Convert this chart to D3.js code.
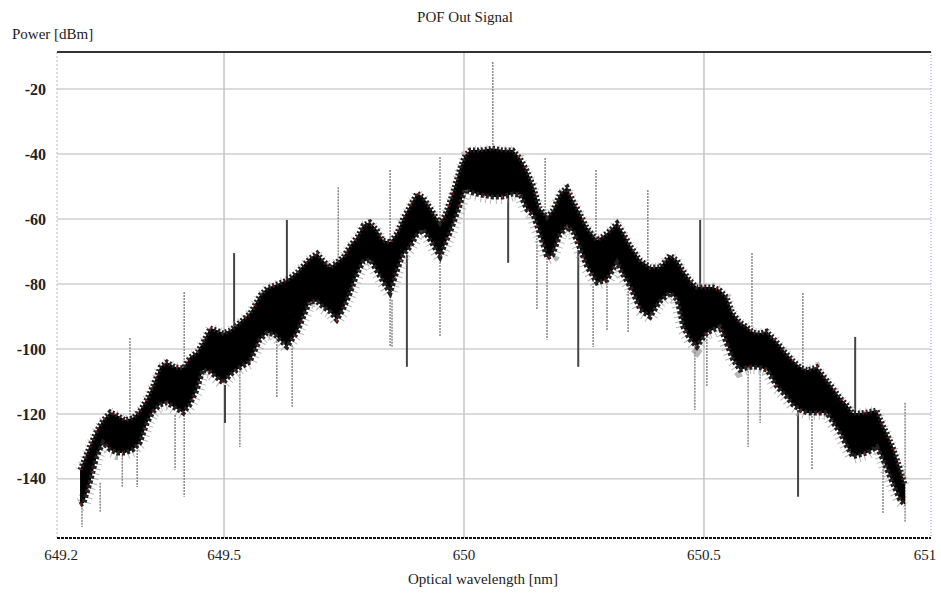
<!DOCTYPE html>
<html>
<head>
<meta charset="utf-8">
<script src="https://cdn.jsdelivr.net/npm/d3@7"></script>
<style>
  body { margin: 0; background: #fff; }
  svg text { font-family: "Liberation Serif", "Times New Roman", Times, "Tinos", "Noto Serif", "DejaVu Serif", serif; fill: #222; }
</style>
</head>
<body>
<svg id="chart" width="941" height="593"></svg>
<script>
// band envelope (nm, dBm)
let wl = [649.200, 649.208, 649.221, 649.235, 649.248, 649.263, 649.277, 649.294, 649.310, 649.325,
  649.340, 649.352, 649.367, 649.381, 649.398, 649.415, 649.429, 649.444, 649.456, 649.471,
  649.485, 649.498, 649.513, 649.533, 649.554, 649.575, 649.590, 649.606, 649.631, 649.652,
  649.679, 649.694, 649.706, 649.721, 649.735, 649.748, 649.763, 649.777, 649.790, 649.804,
  649.819, 649.831, 649.846, 649.860, 649.873, 649.888, 649.902, 649.915, 649.929, 649.950,
  649.960, 649.971, 649.981, 649.992, 650.002, 650.013, 650.033, 650.060, 650.081, 650.102,
  650.117, 650.131, 650.144, 650.158, 650.173, 650.185, 650.200, 650.215, 650.227, 650.242,
  650.256, 650.277, 650.298, 650.319, 650.331, 650.346, 650.367, 650.388, 650.408, 650.429,
  650.444, 650.456, 650.471, 650.485, 650.506, 650.519, 650.533, 650.548, 650.560, 650.575,
  650.590, 650.602, 650.617, 650.631, 650.652, 650.669, 650.685, 650.700, 650.715, 650.735,
  650.756, 650.769, 650.783, 650.798, 650.810, 650.825, 650.840, 650.860, 650.873, 650.881,
  650.894, 650.908, 650.919];
let upper = [-137.2, -134.2, -129.5, -124.9, -121.8, -119.4, -120.3, -121.8, -121.2, -118.8,
  -115.1, -111.1, -105.5, -104.0, -105.5, -105.8, -102.5, -100.9, -97.8, -93.5,
  -94.2, -95.1, -94.2, -91.7, -88.9, -83.4, -81.2, -80.3, -78.8, -76.3,
  -72.0, -70.5, -72.6, -74.8, -73.2, -71.7, -68.0, -65.5, -61.8, -60.9,
  -63.4, -66.5, -67.1, -64.3, -59.7, -55.7, -52.0, -53.2, -56.3, -61.2,
  -58.8, -54.2, -49.5, -44.0, -40.3, -38.8, -38.8, -38.2, -38.8, -38.8,
  -41.2, -44.9, -49.5, -56.6, -59.4, -57.2, -52.0, -50.2, -54.2, -58.2,
  -62.5, -66.5, -64.3, -61.2, -64.0, -68.0, -72.6, -74.8, -74.8, -71.1,
  -72.6, -75.7, -78.8, -80.9, -80.9, -80.9, -81.8, -84.0, -88.9, -91.7,
  -93.2, -94.8, -95.1, -94.5, -97.8, -100.9, -103.4, -105.5, -106.5, -105.5,
  -109.5, -112.0, -114.8, -117.2, -119.7, -119.7, -119.4, -118.8, -123.4, -125.8,
  -130.2, -136.3, -141.8];
let lower = [-148.0, -147.4, -141.2, -133.2, -128.9, -131.1, -132.0, -132.0, -131.1, -128.9,
  -122.8, -119.4, -117.2, -116.6, -118.2, -119.7, -117.2, -112.6, -106.5, -107.1,
  -108.9, -110.5, -108.0, -105.8, -104.0, -97.2, -95.1, -95.7, -99.4, -95.1,
  -85.5, -85.5, -87.1, -88.6, -91.1, -88.0, -82.8, -77.2, -73.2, -72.6,
  -76.3, -79.4, -82.8, -76.3, -71.1, -68.6, -64.9, -63.4, -66.5, -71.7,
  -68.0, -64.3, -60.3, -55.7, -51.1, -51.7, -52.6, -53.2, -53.2, -52.3,
  -52.6, -57.2, -58.8, -64.9, -72.0, -71.1, -64.9, -62.5, -64.0, -69.5,
  -74.8, -79.7, -78.8, -73.5, -77.2, -80.9, -88.0, -90.2, -85.5, -82.8,
  -84.9, -93.2, -97.2, -99.4, -95.1, -94.2, -93.2, -98.8, -103.4, -106.5,
  -105.8, -105.5, -105.8, -106.5, -111.7, -114.2, -117.2, -118.8, -119.7, -119.7,
  -119.7, -122.8, -125.8, -130.2, -133.2, -132.6, -132.0, -130.2, -134.2, -137.2,
  -141.8, -146.5, -148.0];

// isolated spikes
let spikeWl = [649.204, 649.242, 649.288, 649.304, 649.319, 649.398, 649.417, 649.502, 649.521, 649.533,
  649.610, 649.631, 649.642, 649.738, 649.846, 649.850, 649.881, 649.950, 650.060, 650.092,
  650.152, 650.169, 650.173, 650.238, 650.269, 650.275, 650.298, 650.342, 650.383, 650.481,
  650.492, 650.506, 650.592, 650.600, 650.617, 650.696, 650.706, 650.725, 650.815, 650.873,
  650.919];
let spikeTop = [-148.0, -141.2, -132.6, -96.6, -131.1, -120.3, -82.5, -111.1, -70.5, -105.8,
  -95.7, -60.3, -98.8, -50.2, -44.9, -84.9, -71.1, -40.9, -11.7, -52.6,
  -64.9, -41.2, -71.1, -69.5, -78.8, -44.9, -78.8, -80.3, -51.1, -97.2,
  -60.3, -95.1, -105.8, -70.5, -105.8, -118.8, -82.8, -119.7, -96.3, -134.2,
  -116.6];
let spikeBottom = [-154.8, -150.2, -142.5, -121.8, -142.5, -137.2, -145.5, -122.8, -93.2, -130.2,
  -114.8, -81.8, -117.8, -73.2, -99.4, -99.4, -105.5, -96.3, -38.8, -73.5,
  -88.0, -58.8, -97.2, -105.5, -99.4, -66.5, -94.2, -95.1, -74.8, -118.8,
  -80.9, -111.7, -130.2, -95.1, -122.8, -145.5, -105.5, -137.2, -119.7, -150.5,
  -153.5];
let spikeDark = [0, 0, 0, 0, 0, 0, 0, 1, 1, 0,
  0, 1, 0, 0, 0, 0, 1, 0, 0, 1,
  0, 0, 0, 1, 0, 0, 0, 0, 0, 0,
  1, 0, 0, 0, 0, 1, 0, 0, 1, 0,
  0];

let xDomain = [649.152, 650.973];
let yDomain = [-158.2, -8.6];
let xTicks = [649.152, 649.5, 650, 650.5, 650.973];
let xTickLabels = ['649.2', '649.5', '650', '650.5', '651'];
let yTicks = [-20, -40, -60, -80, -100, -120, -140];

let serif = '"Liberation Serif", "Times New Roman", Times, Tinos, "Noto Serif", "DejaVu Serif", serif';
let margin = {top: 52, right: 10, bottom: 55, left: 57};
let svg = d3.select('#chart');
let width = 941 - margin.left - margin.right;
let height = 593 - margin.top - margin.bottom;
let g = svg.append('g').attr('transform', `translate(${margin.left},${margin.top})`);

let x = d3.scaleLinear().domain(xDomain).range([0, width]);
let y = d3.scaleLinear().domain(yDomain).range([height, 0]);

// grid
g.selectAll('.hgrid').data(yTicks).enter().append('line')
  .attr('x1', 0).attr('x2', width)
  .attr('y1', d => y(d)).attr('y2', d => y(d))
  .attr('stroke', '#cfcfcf').attr('stroke-width', 1.5);
g.selectAll('.vgrid').data([649.5, 650, 650.5]).enter().append('line')
  .attr('x1', d => x(d)).attr('x2', d => x(d))
  .attr('y1', 0).attr('y2', height)
  .attr('stroke', '#c4c4c4').attr('stroke-width', 1.5);

// frame
g.append('line').attr('x1', 0).attr('x2', 0).attr('y1', 0).attr('y2', height)
  .attr('stroke', '#bbb').attr('stroke-width', 1).attr('stroke-dasharray', '2,2');
g.append('line').attr('x1', width).attr('x2', width).attr('y1', 0).attr('y2', height)
  .attr('stroke', '#8f9fe0').attr('stroke-width', 1).attr('stroke-dasharray', '1,2');
g.append('line').attr('x1', 0).attr('x2', width).attr('y1', 0).attr('y2', 0)
  .attr('stroke', '#333').attr('stroke-width', 2);
g.append('line').attr('x1', 0).attr('x2', width).attr('y1', height).attr('y2', height)
  .attr('stroke', '#111').attr('stroke-width', 2).attr('stroke-dasharray', '3,1');

// spikes
g.selectAll('.spike').data(spikeWl).enter().append('line')
  .attr('x1', d => x(d)).attr('x2', d => x(d))
  .attr('y1', (d, i) => y(spikeTop[i])).attr('y2', (d, i) => y(spikeBottom[i]))
  .attr('stroke', (d, i) => spikeDark[i] ? '#444' : '#888')
  .attr('stroke-width', (d, i) => spikeDark[i] ? 2 : 1.5)
  .attr('stroke-dasharray', (d, i) => spikeDark[i] ? null : '2,1');

// band
let band = wl.map((d, i) => ({x: d, hi: upper[i], lo: lower[i]}));
let area = d3.area().x(d => x(d.x)).y0(d => y(d.lo)).y1(d => y(d.hi));
let hiLine = d3.line().x(d => x(d.x)).y(d => y(d.hi));
let loLine = d3.line().x(d => x(d.x)).y(d => y(d.lo));

// speckle around the band
g.append('path').datum(band).attr('d', loLine)
  .attr('fill', 'none').attr('stroke', '#999').attr('stroke-width', 14)
  .attr('stroke-dasharray', '1,4').attr('opacity', 0.7);
g.append('path').datum(band).attr('d', hiLine)
  .attr('fill', 'none').attr('stroke', '#aaa').attr('stroke-width', 9)
  .attr('stroke-dasharray', '1,5').attr('opacity', 0.7);
g.append('path').datum(band).attr('d', area).attr('fill', '#000');
g.append('path').datum(band).attr('d', hiLine)
  .attr('fill', 'none').attr('stroke', '#222').attr('stroke-width', 5)
  .attr('stroke-dasharray', '2,2');
g.append('path').datum(band).attr('d', loLine)
  .attr('fill', 'none').attr('stroke', '#222').attr('stroke-width', 5)
  .attr('stroke-dasharray', '3,2');
g.append('path').datum(band).attr('d', hiLine)
  .attr('fill', 'none').attr('stroke', '#c22').attr('stroke-width', 2)
  .attr('stroke-dasharray', '1,13');
g.append('path').datum(band).attr('d', loLine)
  .attr('fill', 'none').attr('stroke', '#b33').attr('stroke-width', 2)
  .attr('stroke-dasharray', '1,17');

// axes labels
g.selectAll('.ylab').data(yTicks).enter().append('text')
  .attr('x', -11).attr('y', d => y(d)).attr('dy', '0.35em')
  .attr('text-anchor', 'end').attr('font-size', 16).attr('font-weight', 'bold')
  .attr('font-family', serif)
  .text(d => d);
g.selectAll('.xlab').data(xTicks).enter().append('text')
  .attr('x', (d, i) => x(d) + (i === 0 ? 4 : i === xTicks.length - 1 ? -6 : 0))
  .attr('y', height + 22)
  .attr('text-anchor', 'middle').attr('font-size', 15).attr('font-family', serif)
  .text((d, i) => xTickLabels[i]);

svg.append('text').attr('x', 465).attr('y', 22).attr('text-anchor', 'middle')
  .attr('font-size', 15).attr('font-family', serif).text('POF Out Signal');
svg.append('text').attr('x', 12).attr('y', 39)
  .attr('font-size', 15).attr('font-family', serif).text('Power [dBm]');
svg.append('text').attr('x', 483).attr('y', 584).attr('text-anchor', 'middle')
  .attr('font-size', 15).attr('font-family', serif).text('Optical wavelength [nm]');
</script>
</body>
</html>
